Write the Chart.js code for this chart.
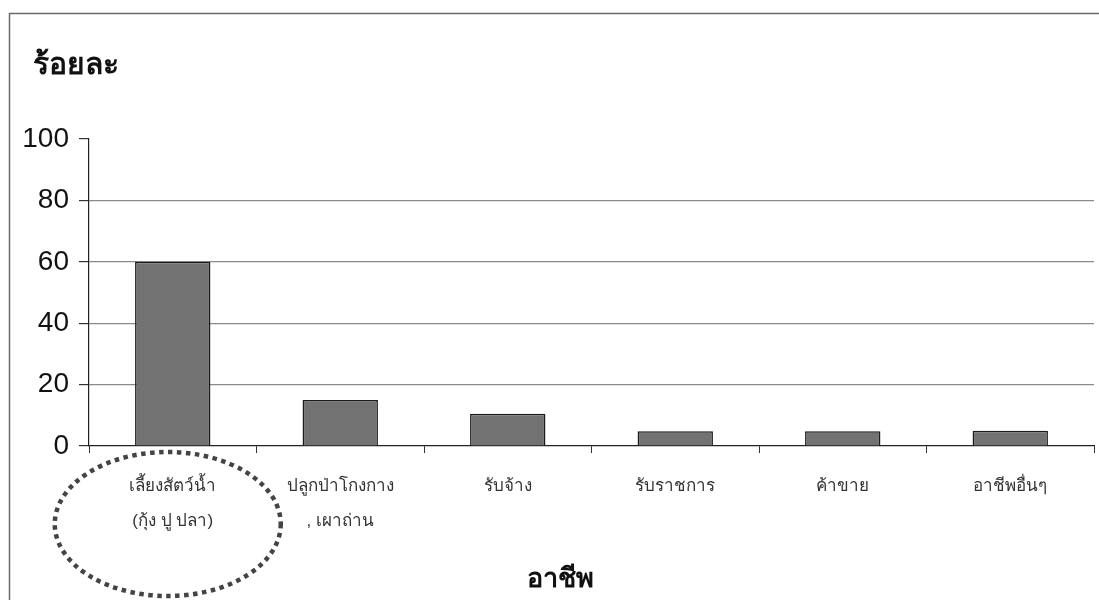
<!DOCTYPE html>
<html>
<head>
<meta charset="utf-8">
<script src="https://cdn.jsdelivr.net/npm/chart.js@4.4.1/dist/chart.umd.min.js"></script>
<style>
    html, body { margin: 0; padding: 0; background: #fff; }
    #wrap { width: 1099px; height: 600px; }
</style>
</head>
<body>
<div id="wrap"><canvas id="occChart"></canvas></div>
<script>
// data
const occupations = [
    ['เลี้ยงสัตว์น้ำ', '(กุ้ง ปู ปลา)'],
    ['ปลูกป่าโกงกาง', ', เผาถ่าน'],
    'รับจ้าง',
    'รับราชการ',
    'ค้าขาย',
    'อาชีพอื่นๆ'
];
const percents = [60, 15, 10.5, 4.8, 4.8, 5];
const yTicks = [0, 20, 40, 60, 80, 100];

const yTitle = 'ร้อยละ';
const xTitle = 'อาชีพ';

const thaiFont = "'Liberation Sans', 'Noto Sans', 'DejaVu Sans', sans-serif";

// frame, both titles and the dotted ring round the first label
const extras = {
    id: 'extras',
    beforeDraw(chart) {
        const ctx = chart.ctx;
        ctx.save();
        ctx.fillStyle = '#fff';
        ctx.fillRect(0, 0, chart.width, chart.height);
        ctx.strokeStyle = '#6a6a6a';
        ctx.lineWidth = 1.5;
        ctx.beginPath();
        ctx.moveTo(9.5, chart.height);
        ctx.lineTo(9.5, 13.5);
        ctx.lineTo(chart.width, 13.5);
        ctx.stroke();
        ctx.restore();
    },
    afterDraw(chart) {
        const ctx = chart.ctx;
        const x = chart.scales.x;
        const area = chart.chartArea;
        ctx.save();
        ctx.fillStyle = '#111';
        ctx.textBaseline = 'middle';
        // y title, top left
        ctx.font = 'bold 30px ' + thaiFont;
        ctx.textAlign = 'left';
        ctx.fillText(yTitle, 33, 66);
        // x title
        ctx.font = 'bold 27px ' + thaiFont;
        ctx.textAlign = 'center';
        ctx.fillText(xTitle, area.left + (area.right - area.left) * 0.469, 580);
        // dotted ring
        const cx = x.getPixelForValue(0) - 5;
        ctx.strokeStyle = '#444';
        ctx.lineWidth = 4.5;
        ctx.setLineDash([4.5, 4.5]);
        ctx.beginPath();
        ctx.ellipse(cx, 524, 113, 72, 0, 0, Math.PI * 2);
        ctx.stroke();
        ctx.restore();
    }
};

const ctx = document.getElementById('occChart').getContext('2d');
const occChart = new Chart(ctx, {
    type: 'bar',
    data: {
        labels: occupations,
        datasets: [{
            data: percents,
            backgroundColor: '#727272',
            borderColor: '#1a1a1a',
            borderWidth: 1.5,
            barPercentage: 0.45,
            categoryPercentage: 1
        }]
    },
    options: {
        responsive: true,
        maintainAspectRatio: false,
        animation: false,
        layout: {
            padding: { top: 139, left: 12, right: 5, bottom: 0 }
        },
        plugins: {
            legend: { display: false },
            tooltip: { enabled: false }
        },
        scales: {
            x: {
                afterFit: function(scale) { scale.height = 154; },
                grid: {
                    offset: true,
                    drawOnChartArea: false,
                    drawTicks: true,
                    tickLength: 7,
                    tickColor: '#333'
                },
                border: { color: '#222', width: 1.2 },
                ticks: {
                    color: '#333',
                    padding: 16,
                    maxRotation: 0,
                    autoSkip: false,
                    font: { family: thaiFont, size: 17, lineHeight: 2.05 }
                }
            },
            y: {
                min: 0,
                max: 100,
                afterFit: function(scale) { scale.width = 77; },
                afterBuildTicks: function(scale) {
                    scale.ticks = yTicks.map(v => ({ value: v }));
                },
                grid: {
                    color: c => (c.tick && (c.tick.value === 100 || c.tick.value === 0)) ? 'rgba(0,0,0,0)' : '#8a8a8a',
                    lineWidth: 1.2,
                    tickLength: 10,
                    tickColor: '#333'
                },
                border: { color: '#222', width: 1.2 },
                ticks: {
                    color: '#111',
                    padding: 10,
                    font: { family: "'Liberation Sans', Arial, sans-serif", size: 28 }
                }
            }
        }
    },
    plugins: [extras]
});
</script>
</body>
</html>
